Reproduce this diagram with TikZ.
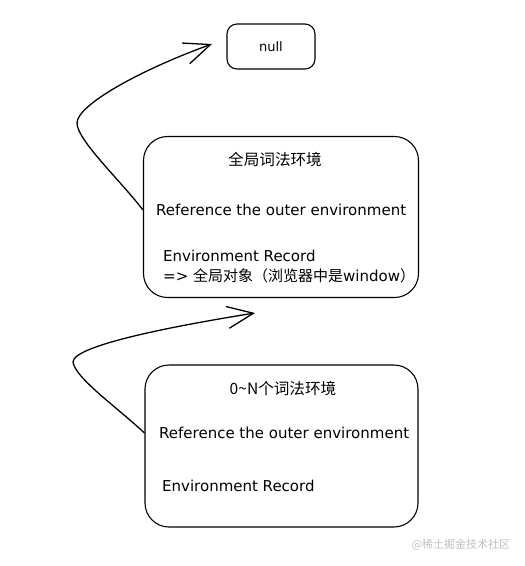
\documentclass[tikz,border=0pt]{standalone}
\usepackage{fontspec}
\setmainfont{DejaVu Sans}
\newfontfamily\cjk{Noto Sans CJK SC}
\usetikzlibrary{arrows.meta}
\tikzset{
  envbox/.style={draw, line width=1.1pt, rounded corners=24pt, inner sep=0pt},
  txt/.style={anchor=west, inner sep=0pt, font=\fontsize{15}{17}\selectfont},
  ttl/.style={inner sep=0pt, font=\cjk\fontsize{15.6}{17}\selectfont},
  ptr/.style={line width=1.3pt, -{Straight Barb[length=26pt,width=22pt,line width=1.3pt]}},
}
\begin{document}
\begin{tikzpicture}[x=1pt, y=-1pt]
  \useasboundingbox (0,0) rectangle (525,566);
  % null box
  \node[draw, line width=1.1pt, rounded corners=10pt, minimum width=88pt, minimum height=45pt,
        font=\fontsize{13}{15}\selectfont] (null) at (271,46.5) {null};
  % global environment
  \node[envbox, minimum width=275pt, minimum height=161pt] (global) at (281,217) {};
  \node[ttl] (gtitle) at (275,160) {全局词法环境};
  \node[txt] (gref) at (156,210) {Reference the outer environment};
  \node[txt] (grec) at (163,256) {Environment Record};
  \node[txt] (gobj) at (163,276) {=> {\cjk 全局对象（浏览器中是}window{\cjk ）}};
  % 0~N environments
  \node[envbox, minimum width=273pt, minimum height=162pt] (local) at (281.5,446) {};
  \node[ttl] (ltitle) at (283,389) {0\textasciitilde N个词法环境};
  \node[txt] (lref) at (159,433) {Reference the outer environment};
  \node[txt] (lrec) at (162,486) {Environment Record};
  % outer references
  \coordinate (gbend) at (77,123);
  \coordinate (gtip) at (212,44);
  \draw[ptr] (global.west |- gref) .. controls (120,180) and (77,140) .. (gbend)
    .. controls (77,105) and (140,70) .. (gtip);
  \coordinate (lbend) at (73,362);
  \coordinate (ltip) at (255,313);
  \draw[ptr] (local.west |- lref) .. controls (118,408) and (75,378) .. (lbend)
    .. controls (73,345) and (180,325) .. (ltip);
  % watermark
  \node[font=\cjk\fontsize{11}{13}\selectfont, text=black!25, inner sep=0pt] (mark) at (461,545) {@稀土掘金技术社区};
\end{tikzpicture}
\end{document}
